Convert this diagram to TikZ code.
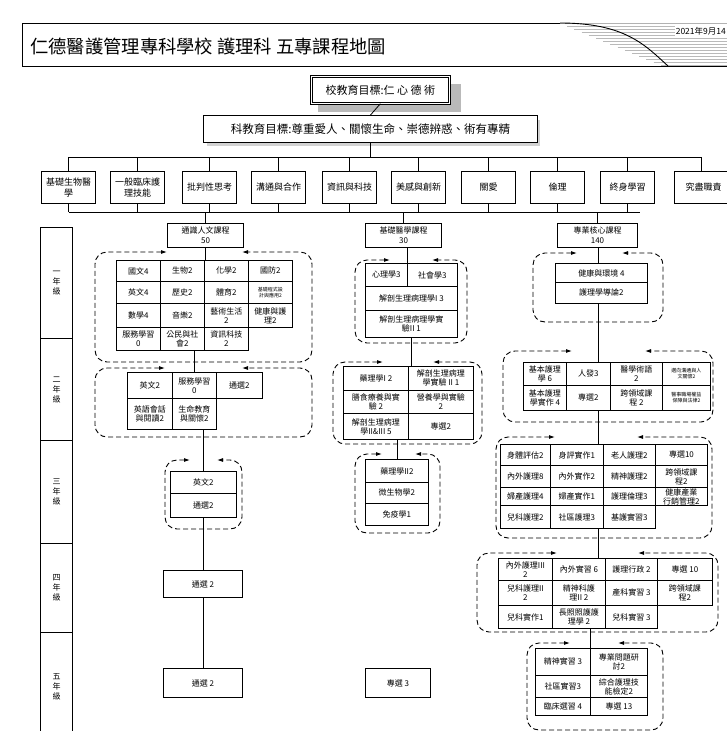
\documentclass[tikz,border=0pt]{standalone}
\usepackage{fontspec}
\setmainfont{Noto Sans CJK TC}
\usetikzlibrary{arrows.meta,fit}
\newcommand\gcell[7][cell]{%
  \pgfmathsetmacro\gcw{#4-#2}%
  \pgfmathsetmacro\gch{#5-#3}%
  \node[#1, minimum width=\gcw pt, minimum height=\gch pt] (#6) at (#2,#3) {#7};}
\newcommand\dashgroup[6]{%
  \draw[dbox] (#5,#2) -- (#1,#2) -- (#1,#4) -- (#3,#4) -- (#3,#2) -- (#6,#2);}
\begin{document}
\begin{tikzpicture}[x=1pt,y=-1pt,
  cell/.style={draw, line width=0.9pt, inner sep=0pt, anchor=north west, align=center, font=\fontsize{8}{9}\selectfont},
  tinycell/.style={cell, font=\fontsize{5}{6}\selectfont},
  course/.style={draw, line width=1pt, inner sep=0pt, anchor=north west, align=center, font=\fontsize{8}{10}\selectfont},
  catbox/.style={draw, line width=1pt, inner sep=0pt, anchor=north west, align=center, font=\fontsize{9}{11}\selectfont},
  yearcell/.style={draw, line width=1.3pt, inner sep=0pt, anchor=north west, align=center, font=\fontsize{8}{10}\selectfont},
  topbox/.style={draw, double, double distance=1.2pt, line width=0.7pt, fill=white, inner sep=0pt, anchor=north west, font=\fontsize{11}{13}\selectfont},
  deptbox/.style={draw, line width=1pt, fill=white, inner sep=0pt, anchor=north west, font=\fontsize{11.5}{13}\selectfont},
  grp/.style={inner sep=0pt, draw=none},
  conn/.style={line width=0.8pt},
  dbox/.style={dash pattern=on 5pt off 3pt, line width=0.9pt, rounded corners=12pt, {Latex[length=6pt,width=4pt]}-{Latex[length=6pt,width=4pt]}}
]
\useasboundingbox (0,0) rectangle (727,731);
\fill[white] (0,0) rectangle (727,731);

% ---------- title banner ----------
\foreach \yy in {26,29,...,65} {\draw[gray!55, line width=0.7pt] ({560+(\yy-23)*2.4},\yy) -- (727,\yy);}
\draw[gray!60, line width=0.7pt] (560,23) -- (727,23);
\draw[line width=0.9pt] (560,23) -- (22,23) -- (22,66) -- (727,66);
\draw[line width=0.9pt] (560,23) .. controls (625,23) and (645,45) .. (668,66);
\node[anchor=west, inner sep=0pt, font=\fontsize{18.3}{21}\selectfont] (title) at (30,46) {仁德醫護管理專科學校 護理科 五專課程地圖};
\node[anchor=east, inner sep=1pt, fill=white, font=\fontsize{8.5}{9}\selectfont] (date) at (727,31) {2021年9月14};

% ---------- goals ----------
\fill[gray!55] (318,84) rectangle (461,112);
\gcell[topbox]{311}{76}{449}{103}{school}{校教育目標:仁 心 德 術}
\fill[gray!35] (207,120) rectangle (540,146);
\gcell[deptbox]{203}{115}{537}{142}{dept}{科教育目標:尊重愛人、關懷生命、崇德辨惑、術有專精}
\draw[conn] (school.south) -- (dept.north);

% ---------- core abilities ----------
\gcell[catbox]{41}{171}{95}{203}{c1}{基礎生物醫\\學}
\gcell[catbox]{110}{171}{164}{203}{c2}{一般臨床護\\理技能}
\gcell[catbox]{182}{171}{236}{203}{c3}{批判性思考}
\gcell[catbox]{251}{171}{305}{203}{c4}{溝通與合作}
\gcell[catbox]{322}{171}{376}{203}{c5}{資訊與科技}
\gcell[catbox]{391}{171}{445}{203}{c6}{美感與創新}
\gcell[catbox]{461}{171}{515}{203}{c7}{關愛}
\gcell[catbox]{530}{171}{584}{203}{c8}{倫理}
\gcell[catbox]{600}{171}{654}{203}{c9}{終身學習}
\gcell[catbox]{674}{171}{732}{203}{c10}{究盡職責}
\coordinate (topbar) at (0,157);
\coordinate (botbar) at (0,212);
\coordinate (botend) at (640,212);
\coordinate (c10x) at (701,0);
\draw[conn] (dept.south) -- (dept.south |- topbar);
\draw[conn] (c1.north |- topbar) -- (c10x |- topbar);
\foreach \c in {c1,c2,c3,c4,c5,c6,c7,c8,c9} {\draw[conn] (\c.north |- topbar) -- (\c.north);}
\draw[conn] (c10x |- topbar) -- (c10x |- c10.north);
\foreach \c in {c1,c2,c3,c4,c5,c6,c7,c8,c9} {\draw[conn] (\c.south) -- (\c.south |- botbar);}
\draw[conn] (c1.south |- botbar) -- (botend);

% ---------- year column ----------
\gcell[yearcell]{40}{227}{72}{338}{y1}{一\\年\\級}
\gcell[yearcell]{40}{338}{72}{440}{y2}{二\\年\\級}
\gcell[yearcell]{40}{440}{72}{543}{y3}{三\\年\\級}
\gcell[yearcell]{40}{543}{72}{632}{y4}{四\\年\\級}
\gcell[yearcell]{40}{632}{72}{740}{y5}{五\\年\\級}

% ---------- left column: general education ----------
\gcell[course]{167}{223}{243}{247}{L0}{通識人文課程\\50}
\draw[conn] (L0.north |- botbar) -- (L0.north);
\gcell{116}{260}{160}{281}{La1}{國文4}
\gcell{160}{260}{204}{281}{La2}{生物2}
\gcell{204}{260}{248}{281}{La3}{化學2}
\gcell{248}{260}{292}{281}{La4}{國防2}
\gcell{116}{281}{160}{303}{La5}{英文4}
\gcell{160}{281}{204}{303}{La6}{歷史2}
\gcell{204}{281}{248}{303}{La7}{體育2}
\gcell[tinycell]{248}{281}{292}{303}{La8}{基礎程式設\\計與應用2}
\gcell{116}{303}{160}{327}{La9}{數學4}
\gcell{160}{303}{204}{327}{La10}{音樂2}
\gcell{204}{303}{248}{327}{La11}{藝術生活\\2}
\gcell{248}{303}{292}{327}{La12}{健康與護\\理2}
\gcell{116}{327}{160}{350}{La13}{服務學習\\0}
\gcell{160}{327}{204}{350}{La14}{公民與社\\會2}
\gcell{204}{327}{248}{350}{La15}{資訊科技\\2}
\node[grp, fit=(La1)(La4)(La15)] (L1) {};
\dashgroup{95}{252}{312}{362}{167}{242}
\draw[conn] (L0.south) -- (L0.south |- L1.north);

\gcell{127}{372}{172}{398}{Lb1}{英文2}
\gcell{172}{372}{216}{398}{Lb2}{服務學習\\0}
\gcell{216}{372}{262}{398}{Lb3}{通選2}
\gcell{127}{398}{172}{429}{Lb4}{英語會話\\與閱讀2}
\gcell{172}{398}{216}{429}{Lb5}{生命教育\\與關懷2}
\node[grp, fit=(Lb1)(Lb3)(Lb5)] (L2) {};
\dashgroup{95}{368}{312}{437}{165}{242}
\draw[conn] (Lb2.north |- L1.south) -- (Lb2.north);

\gcell{170}{471}{236}{493}{Lc1}{英文2}
\gcell{170}{493}{236}{517}{Lc2}{通選2}
\dashgroup{165}{460}{242}{529}{190}{217}
\draw[conn] (Lc1.north |- L2.south) -- (Lc1.north);
\gcell[course]{163}{570}{242}{597}{Ld}{通選 2}
\draw[conn] (Lc2.south) -- (Lc2.south |- Ld.north);
\gcell[course]{163}{668}{242}{697}{Le}{通選 2}
\draw[conn] (Lc2.south |- Ld.south) -- (Lc2.south |- Le.north);

% ---------- middle column: basic medicine ----------
\gcell[course]{365}{223}{441}{247}{M0}{基礎醫學課程\\30}
\draw[conn] (M0.north |- botbar) -- (M0.north);
\gcell{365}{263}{407}{286}{Ma1}{心理學3}
\gcell{407}{263}{457}{286}{Ma2}{社會學3}
\gcell{365}{286}{457}{310}{Ma3}{解剖生理病理學I 3}
\gcell{365}{310}{457}{337}{Ma4}{解剖生理病理學實\\驗II 1}
\dashgroup{355}{260}{467}{343}{390}{432}
\draw[conn] (Ma2.north west |- M0.south) -- (Ma2.north west);

\gcell{343}{366}{408}{390}{Mb1}{藥理學I 2}
\gcell{408}{366}{473}{390}{Mb2}{解剖生理病理\\學實驗 II 1}
\gcell{343}{390}{408}{413}{Mb3}{膳食療養與實\\驗 2}
\gcell{408}{390}{473}{413}{Mb4}{營養學與實驗\\2}
\gcell{343}{413}{408}{439}{Mb5}{解剖生理病理\\學II\&III 5}
\gcell{408}{413}{473}{439}{Mb6}{專選2}
\dashgroup{333}{362}{482}{444}{383}{433}
\draw[conn] (Ma4.south) -- (Ma4.south |- Mb1.north);

\gcell{365}{459}{428}{482}{Mc1}{藥理學II2}
\gcell{365}{482}{428}{503}{Mc2}{微生物學2}
\gcell{365}{503}{428}{525}{Mc3}{免疫學1}
\dashgroup{355}{454}{440}{533}{382}{415}
\draw[conn] (Mc1.north |- Mb5.south) -- (Mc1.north);
\gcell[course]{365}{668}{430}{697}{Me}{專選 3}

% ---------- right column: professional core ----------
\gcell[course]{557}{223}{637}{247}{R0}{專業核心課程\\140}
\draw[conn] (R0.north |- botbar) -- (R0.north);
\coordinate (rx) at (598,0);
\gcell{555}{263}{647}{282}{Ra1}{健康與環境 4}
\gcell{555}{282}{647}{303}{Ra2}{護理學導論2}
\dashgroup{533}{253}{663}{322}{577}{622}
\draw[conn] (rx |- R0.south) -- (rx |- Ra1.north);

\gcell{523}{362}{566}{385}{Rb1}{基本護理\\學 6}
\gcell{566}{362}{610}{385}{Rb2}{人發3}
\gcell{610}{362}{662}{385}{Rb3}{醫學術語\\2}
\gcell[tinycell]{662}{362}{710}{385}{Rb4}{邁向溝通與人\\文關懷2}
\gcell{523}{385}{566}{410}{Rb5}{基本護理\\學實作 4}
\gcell{566}{385}{610}{410}{Rb6}{專選2}
\gcell{610}{385}{662}{410}{Rb7}{跨領域課\\程 2}
\gcell[tinycell]{662}{385}{710}{410}{Rb8}{醫事職場權益\\保障與法律2}
\node[grp, fit=(Rb1)(Rb4)(Rb8)] (R2) {};
\dashgroup{503}{351}{713}{422}{572}{645}
\draw[conn] (rx |- Ra2.south) -- (rx |- R2.north);

\gcell{500}{444}{550}{465}{Rc1}{身體評估2}
\gcell{550}{444}{603}{465}{Rc2}{身評實作1}
\gcell{603}{444}{655}{465}{Rc3}{老人護理2}
\gcell{655}{444}{707}{465}{Rc4}{專選10}
\gcell{500}{465}{550}{487}{Rc5}{內外護理8}
\gcell{550}{465}{603}{487}{Rc6}{內外實作2}
\gcell{603}{465}{655}{487}{Rc7}{精神護理2}
\gcell{655}{465}{707}{487}{Rc8}{跨領域課\\程2}
\gcell{500}{487}{550}{505}{Rc9}{婦產護理4}
\gcell{550}{487}{603}{505}{Rc10}{婦產實作1}
\gcell{603}{487}{655}{505}{Rc11}{護理倫理3}
\gcell{655}{487}{707}{505}{Rc12}{健康產業\\行銷管理2}
\gcell{500}{505}{550}{528}{Rc13}{兒科護理2}
\gcell{550}{505}{603}{528}{Rc14}{社區護理3}
\gcell{603}{505}{655}{528}{Rc15}{基護實習3}
\node[grp, fit=(Rc1)(Rc4)(Rc15)] (R3) {};
\dashgroup{496}{437}{712}{538}{555}{637}
\draw[conn] (rx |- R2.south) -- (rx |- R3.north);

\gcell{498}{558}{552}{580}{Rd1}{內外護理III\\2}
\gcell{552}{558}{605}{580}{Rd2}{內外實習 6}
\gcell{605}{558}{657}{580}{Rd3}{護理行政 2}
\gcell{657}{558}{712}{580}{Rd4}{專選 10}
\gcell{498}{580}{552}{605}{Rd5}{兒科護理II\\2}
\gcell{552}{580}{605}{605}{Rd6}{精神科護\\理II 2}
\gcell{605}{580}{657}{605}{Rd7}{產科實習 3}
\gcell{657}{580}{712}{605}{Rd8}{跨領域課\\程2}
\gcell{498}{605}{552}{628}{Rd9}{兒科實作1}
\gcell{552}{605}{605}{628}{Rd10}{長照照護護\\理學 2}
\gcell{605}{605}{657}{628}{Rd11}{兒科實習 3}
\node[grp, fit=(Rd1)(Rd4)(Rd11)] (R4) {};
\dashgroup{477}{553}{718}{632}{557}{638}
\draw[conn] (rx |- R3.south) -- (rx |- R4.north);

\gcell{535}{648}{590}{675}{Re1}{精神實習 3}
\gcell{590}{648}{647}{675}{Re2}{專業問題研\\討2}
\gcell{535}{675}{590}{697}{Re3}{社區實習3}
\gcell{590}{675}{647}{697}{Re4}{綜合護理技\\能檢定2}
\gcell{535}{697}{590}{715}{Re5}{臨床選習 4}
\gcell{590}{697}{647}{715}{Re6}{專選 13}
\dashgroup{527}{643}{663}{730}{570}{618}
\draw[conn] (Re2.north west |- R4.south) -- (Re2.north west);
\end{tikzpicture}
\end{document}
